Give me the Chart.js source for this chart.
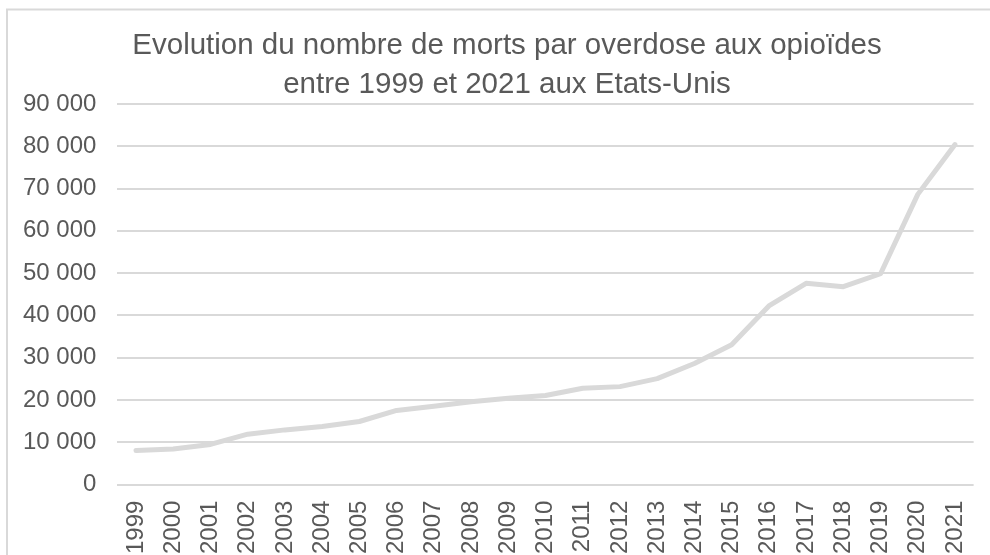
<!DOCTYPE html>
<html>
<head>
<meta charset="utf-8">
<script src="https://cdn.jsdelivr.net/npm/chart.js@4"></script>
<style>
  html, body { margin: 0; padding: 0; background: #fff; overflow: hidden; }
  #wrap { width: 1000px; height: 570px; }
</style>
</head>
<body>
<div id="wrap"><canvas id="chart"></canvas></div>
<script>
const years = ['1999', '2000', '2001', '2002', '2003', '2004', '2005', '2006', '2007', '2008', '2009', '2010',
  '2011', '2012', '2013', '2014', '2015', '2016', '2017', '2018', '2019', '2020', '2021'];
const deaths = [8050, 8410, 9500, 11920, 12940, 13760, 14920, 17550, 18520, 19580, 20420, 21090,
  22780, 23170, 25050, 28650, 33090, 42250, 47600, 46800, 49860, 68630, 80410];
const titleLines = ['Evolution du nombre de morts par overdose aux opioïdes', 'entre 1999 et 2021 aux Etats-Unis'];

const FONT = '"Liberation Sans", Arial, sans-serif';
const TEXT = '#595959';
const GRID = '#d9d9d9';

// frame of the chart area, like the spreadsheet border
const framePlugin = {
  id: 'frame',
  beforeDraw(chart) {
    const ctx = chart.ctx;
    ctx.save();
    ctx.fillStyle = '#fff';
    ctx.fillRect(0, 0, chart.width, chart.height);
    ctx.strokeStyle = GRID;
    ctx.lineWidth = 2;
    ctx.beginPath();
    ctx.moveTo(7, chart.height + 5);
    ctx.lineTo(7, 9.5);
    ctx.lineTo(chart.width + 5, 9.5);
    ctx.stroke();
    ctx.restore();
  }
};

// title is drawn by hand: it sits a little right of the canvas centre
const titlePlugin = {
  id: 'offsetTitle',
  afterDraw(chart) {
    const ctx = chart.ctx;
    ctx.save();
    ctx.fillStyle = TEXT;
    ctx.font = '29.5px ' + FONT;
    ctx.textAlign = 'center';
    ctx.textBaseline = 'middle';
    titleLines.forEach((line, i) => ctx.fillText(line, 507, 46 + i * 39));
    ctx.restore();
  }
};

function formatThousands(v) {
  return String(v).replace(/\B(?=(\d{3})+(?!\d))/g, ' ');
}

new Chart(document.getElementById('chart'), {
  type: 'line',
  data: {
    labels: years,
    datasets: [{
      data: deaths,
      borderColor: '#d9d9d9',
      borderWidth: 5,
      borderCapStyle: 'round',
      borderJoinStyle: 'round',
      pointRadius: 0,
      tension: 0,
      fill: false
    }]
  },
  options: {
    responsive: true,
    maintainAspectRatio: false,
    animation: false,
    layout: { padding: { left: 2, right: 9, top: 104, bottom: 0 } },
    plugins: {
      legend: { display: false },
      tooltip: { enabled: false },
      title: { display: false }
    },
    scales: {
      x: {
        offset: true,
        grid: { display: false, drawTicks: false },
        border: { display: false },
        ticks: {
          color: TEXT,
          font: { family: FONT, size: 24 },
          minRotation: 90,
          maxRotation: 90,
          autoSkip: false,
          padding: 16
        }
      },
      y: {
        min: 0,
        max: 90000,
        grid: { color: GRID, lineWidth: 2, drawTicks: false },
        border: { display: false },
        ticks: {
          stepSize: 10000,
          color: TEXT,
          font: { family: FONT, size: 24 },
          padding: 21,
          callback: v => formatThousands(v)
        }
      }
    }
  },
  plugins: [framePlugin, titlePlugin]
});
</script>
</body>
</html>
